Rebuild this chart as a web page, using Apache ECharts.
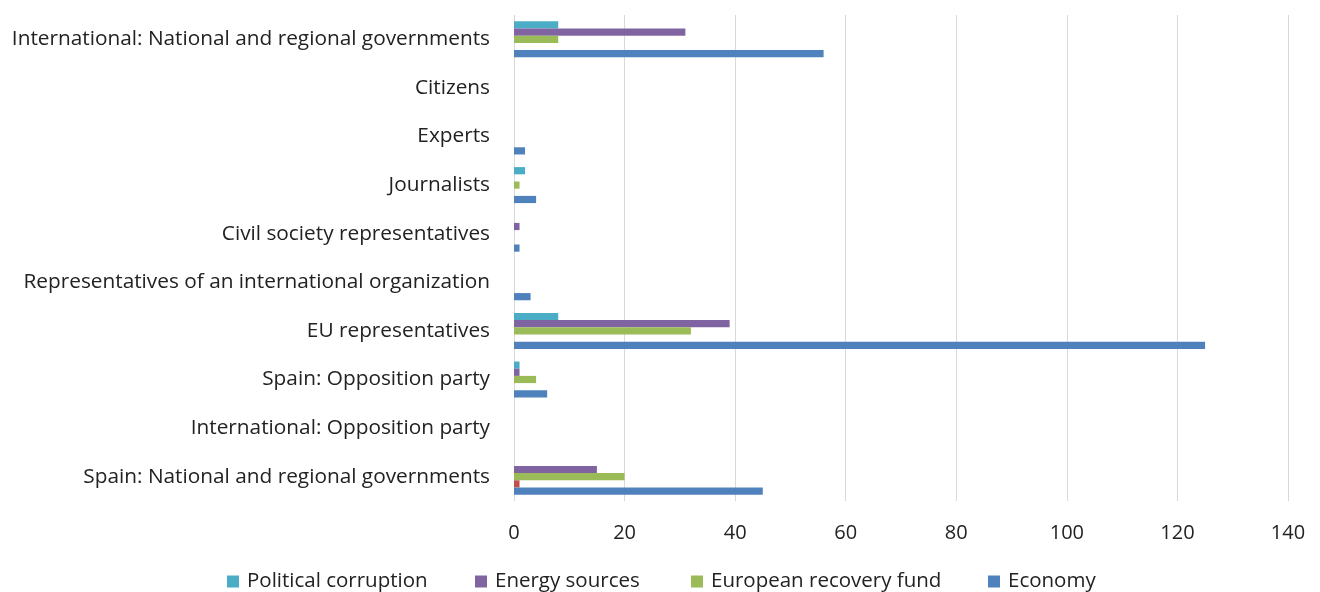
<!DOCTYPE html>
<html>
<head>
<meta charset="utf-8">
<script src="https://cdn.jsdelivr.net/npm/echarts@6/dist/echarts.min.js"></script>
<style>
html,body{margin:0;padding:0;background:#fff;}
#chart{width:1320px;height:592px;}
</style>
</head>
<body>
<div id="chart"></div>
<script>
// Categories listed bottom to top (category axis order)
const categories = [
  "Spain: National and regional governments",
  "International: Opposition party",
  "Spain: Opposition party",
  "EU representatives",
  "Representatives of an international organization",
  "Civil society representatives",
  "Journalists",
  "Experts",
  "Citizens",
  "International: National and regional governments"
];
const politicalCorruption = [0, 0, 1, 8, 0, 0, 2, 0, 0, 8];
const energySources       = [15, 0, 1, 39, 0, 1, 0, 0, 0, 31];
const europeanRecovery    = [20, 0, 4, 32, 0, 0, 1, 0, 0, 8];
const otherTopic          = [1, 0, 0, 0, 0, 0, 0, 0, 0, 0];
const economy             = [45, 0, 6, 125, 3, 1, 4, 2, 0, 56];
const xTicks = [0, 20, 40, 60, 80, 100, 120, 140];

const FONT = 'Open Sans';
const colors = {
  pc: '#4bacc6', es: '#8064a2', ef: '#9bbb59', ot: '#c0504d', ec: '#4f81bd'
};

function legendAt(name, left) {
  return {
    data: [name], left: left, top: 566, itemWidth: 12, itemHeight: 12, itemGap: 0,
    icon: 'rect', textStyle: {fontFamily: FONT, fontSize: 20.5, color: '#222', padding: [0,0,0,3]}
  };
}

const chart = echarts.init(document.getElementById('chart'), null, {renderer: 'canvas'});
chart.setOption({
  animation: false,
  backgroundColor: '#fff',
  grid: {left: 514, right: 32, top: 15, bottom: 91, containLabel: false},
  legend: [
    legendAt('Political corruption', 222),
    legendAt('Energy sources', 470),
    legendAt('European recovery fund', 686),
    legendAt('Economy', 983)
  ],
  xAxis: {
    type: 'value', min: xTicks[0], max: xTicks[xTicks.length - 1], interval: 20,
    axisLine: {show: false}, axisTick: {show: false},
    axisLabel: {fontFamily: FONT, fontSize: 20, color: '#222', margin: 22},
    splitLine: {show: true, lineStyle: {color: '#d9d9d9', width: 1}}
  },
  yAxis: {
    type: 'category', data: categories,
    axisLine: {show: false}, axisTick: {show: false},
    axisLabel: {fontFamily: FONT, fontSize: 20.8, color: '#222', margin: 24},
    splitLine: {show: false}
  },
  series: [
    {name: 'Political corruption', type: 'bar', data: politicalCorruption, itemStyle: {color: colors.pc}, barGap: '0%', barCategoryGap: '26%'},
    {name: 'Energy sources', type: 'bar', data: energySources, itemStyle: {color: colors.es}},
    {name: 'European recovery fund', type: 'bar', data: europeanRecovery, itemStyle: {color: colors.ef}},
    {name: 'Other', type: 'bar', data: otherTopic, itemStyle: {color: colors.ot}},
    {name: 'Economy', type: 'bar', data: economy, itemStyle: {color: colors.ec}}
  ]
});
</script>
</body>
</html>
